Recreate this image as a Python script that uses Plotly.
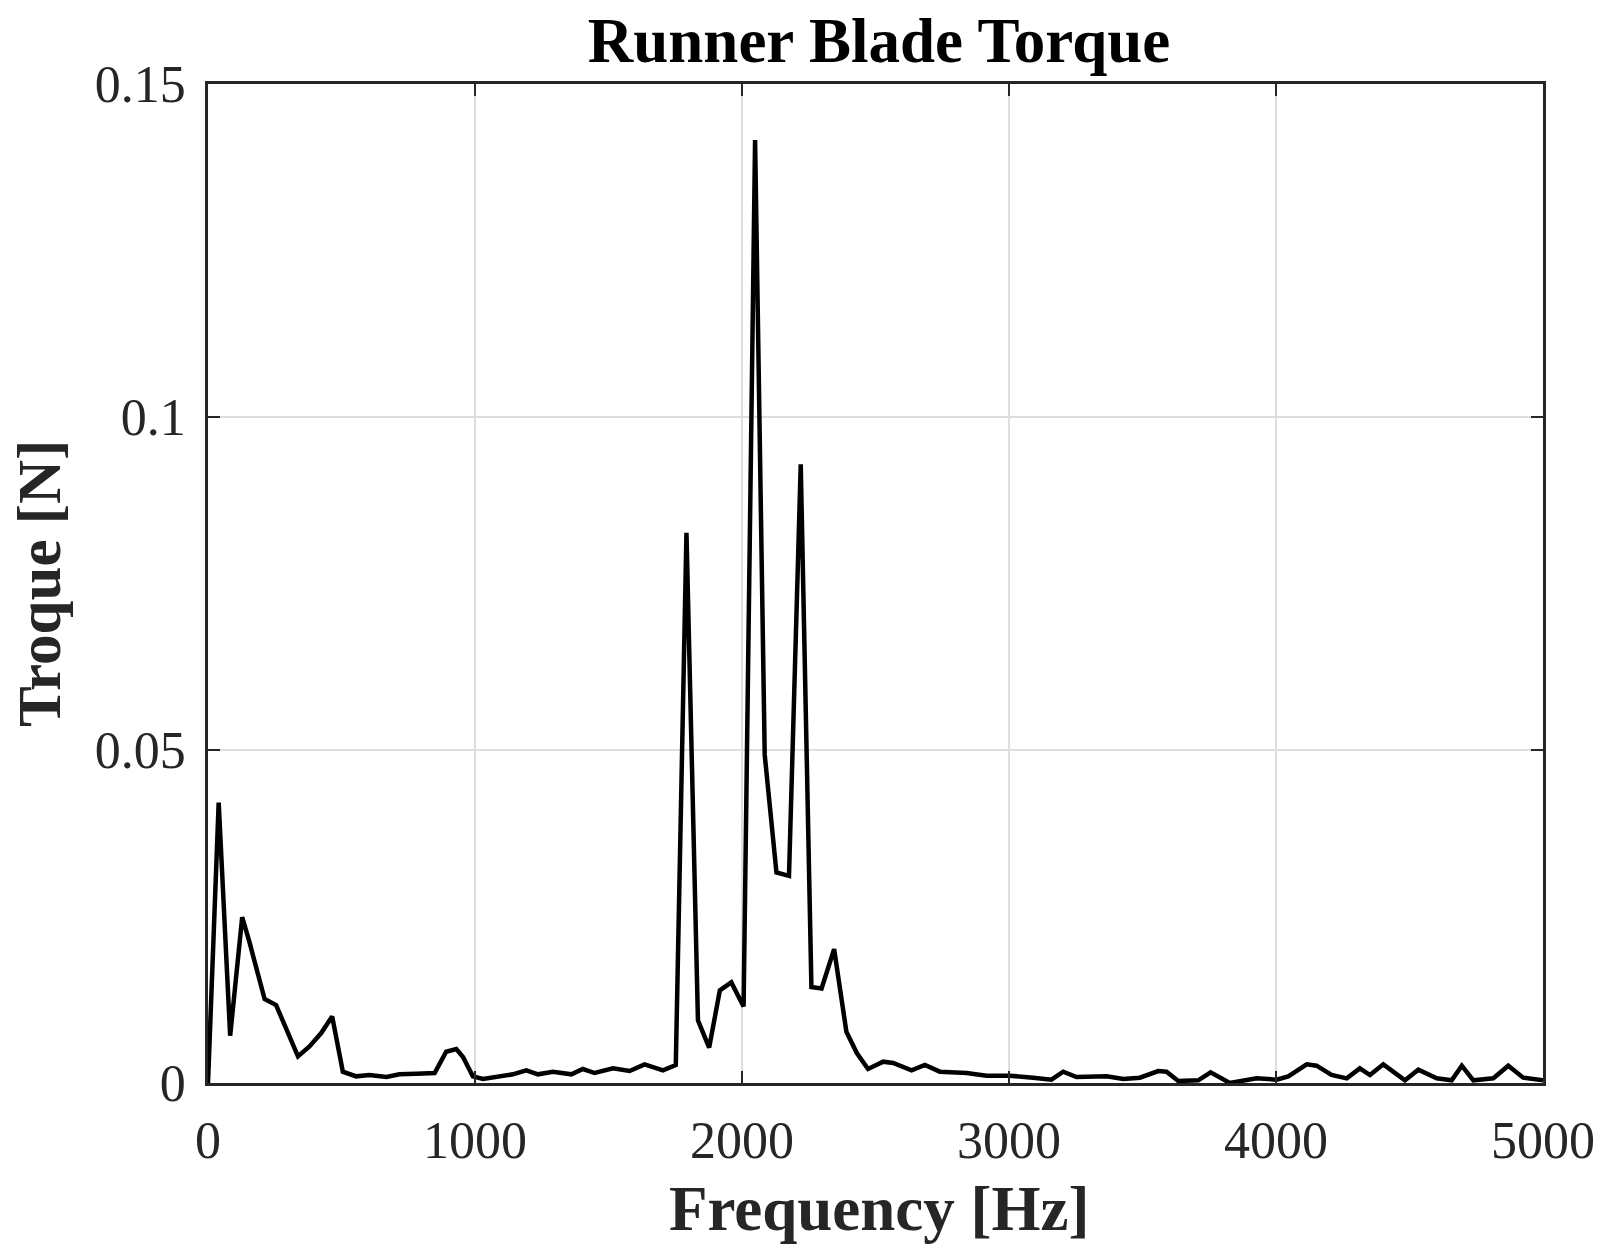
import plotly.graph_objects as go

freq_hz = [0, 40, 83, 128, 155, 212, 255, 337, 380, 424, 465, 505, 555, 605, 668, 717, 780, 849,
           892, 930, 955, 992, 1030, 1092, 1142, 1192, 1236, 1292, 1361, 1404, 1448, 1517, 1579,
           1635, 1704, 1752, 1792, 1835, 1877, 1917, 1960, 2006, 2049, 2085, 2129, 2176, 2220,
           2260, 2298, 2345, 2391, 2430, 2472, 2529, 2566, 2635, 2685, 2741, 2841, 2916, 3003,
           3090, 3159, 3203, 3253, 3366, 3428, 3490, 3559, 3590, 3634, 3709, 3755, 3827, 3927,
           4002, 4046, 4115, 4152, 4208, 4265, 4314, 4352, 4402, 4483, 4533, 4602, 4658, 4696,
           4739, 4814, 4870, 4926, 5000]

torque_n = [0.0, 0.0421, 0.0071, 0.0249, 0.0212, 0.0126, 0.0117, 0.0040, 0.0055, 0.0075, 0.0100,
            0.0017, 0.0010, 0.0012, 0.0009, 0.0013, 0.0014, 0.0015, 0.0047, 0.0051, 0.0039,
            0.0010, 0.0006, 0.0010, 0.0013, 0.0019, 0.0013, 0.0017, 0.0013, 0.0021, 0.0015,
            0.0022, 0.0018, 0.0028, 0.0019, 0.0027, 0.0826, 0.0094, 0.0053, 0.0139, 0.0151,
            0.0115, 0.1416, 0.0493, 0.0316, 0.0311, 0.0929, 0.0144, 0.0142, 0.0201, 0.0077,
            0.0045, 0.0021, 0.0032, 0.0030, 0.0019, 0.0027, 0.0017, 0.0015, 0.0011, 0.0011,
            0.0008, 0.0005, 0.0017, 0.0009, 0.0010, 0.0006, 0.0008, 0.0018, 0.0017, 0.0003,
            0.0004, 0.0016, 0.0000, 0.0007, 0.0005, 0.0010, 0.0028, 0.0026, 0.0012, 0.0007,
            0.0022, 0.0012, 0.0028, 0.0004, 0.0020, 0.0007, 0.0004, 0.0026, 0.0004, 0.0007,
            0.0026, 0.0008, 0.0004]

x_ticks = [0, 1000, 2000, 3000, 4000, 5000]
x_tick_labels = ["0", "1000", "2000", "3000", "4000", "5000"]
y_ticks = [0, 0.05, 0.1, 0.15]
y_tick_labels = ["0", "0.05", "0.1", "0.15"]

FONT = "Liberation Serif, Times New Roman, serif"
AXC = "#262626"

W, H = 1616, 1260
L, R, T, B = 207.5, 73, 84, 177
PW, PH = W - L - R, H - T - B

fig = go.Figure()
fig.add_trace(go.Scatter(x=freq_hz, y=torque_n, mode="lines",
                         line=dict(color="black", width=4.5), showlegend=False))

axis_common = dict(
    showline=True, linecolor=AXC, linewidth=2.5, mirror="ticks",
    ticks="inside", ticklen=12, tickwidth=1.5, tickcolor=AXC,
    showgrid=True, gridcolor="#dedede", gridwidth=1.5, zeroline=False,
    automargin=False,
    tickfont=dict(family=FONT, size=52, color=AXC),
)

fig.update_layout(
    width=W, height=H,
    margin=dict(l=L, r=R, t=T, b=B),
    paper_bgcolor="white", plot_bgcolor="white",
    title=dict(text="<b>Runner Blade Torque</b>", x=879 / W, xanchor="center",
               y=1 - 40 / H, yanchor="middle",
               font=dict(family=FONT, size=63, color="black")),
    xaxis=dict(range=[0, 5000], tickvals=x_ticks, ticktext=x_tick_labels,
               ticklabelstandoff=10, **axis_common),
    yaxis=dict(range=[0, 0.15], tickvals=y_ticks, ticktext=y_tick_labels,
               ticklabelstandoff=9, **axis_common),
    annotations=[
        dict(text="<b>Frequency [Hz]</b>", xref="paper", yref="paper",
             x=(879 - L) / PW, y=-(1209 - (T + PH)) / PH, xanchor="center", yanchor="middle",
             showarrow=False, font=dict(family=FONT, size=63, color=AXC)),
        dict(text="<b>Troque [N]</b>", xref="paper", yref="paper",
             x=-(L - 39) / PW, y=0.5, xanchor="center", yanchor="middle", textangle=-90,
             showarrow=False, font=dict(family=FONT, size=61, color=AXC)),
    ],
)

fig.write_html("out.html", config={"displayModeBar": False},
               post_script="document.body.style.margin='0';")
